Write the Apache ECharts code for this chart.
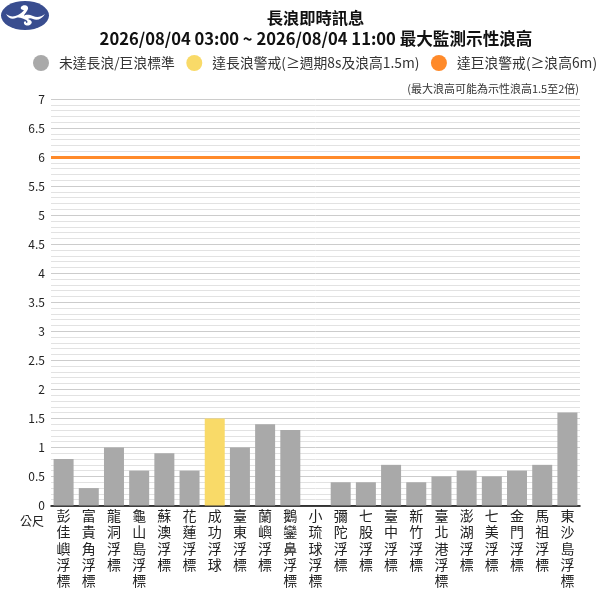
<!DOCTYPE html>
<html><head><meta charset="utf-8">
<style>html,body{margin:0;padding:0;background:#fff}#c{width:600px;height:600px}</style>
<script src="https://cdn.jsdelivr.net/npm/echarts@6/dist/echarts.min.js"></script>
</head><body><div id="c"></div>
<script>
const stations = ['彭佳嶼浮標','富貴角浮標','龍洞浮標','龜山島浮標','蘇澳浮標','花蓮浮標','成功浮球','臺東浮標','蘭嶼浮標','鵝鑾鼻浮標','小琉球浮標','彌陀浮標','七股浮標','臺中浮標','新竹浮標','臺北港浮標','澎湖浮標','七美浮標','金門浮標','馬祖浮標','東沙島浮標'];
const normalWaves = [0.8,0.3,1,0.6,0.9,0.6,null,1,1.4,1.3,null,0.4,0.4,0.7,0.4,0.5,0.6,0.5,0.6,0.7,1.6];
const swellWaves = [null,null,null,null,null,null,1.5,null,null,null,null,null,null,null,null,null,null,null,null,null,null];
const hugeThreshold = 6;
const titleLine1 = '長浪即時訊息';
const titleLine2 = '2026/08/04 03:00 ~ 2026/08/04 11:00 最大監測示性浪高';
const legendNames = ['未達長浪/巨浪標準','達長浪警戒(≥週期8s及浪高1.5m)','達巨浪警戒(≥浪高6m)'];
const note = '(最大浪高可能為示性浪高1.5至2倍)';
const unit = '公尺';
const FONT = '"Noto Sans CJK TC","Noto Sans",sans-serif';
const logoSvg = '<svg xmlns="http://www.w3.org/2000/svg" width="50" height="31" viewBox="0 0 50 31">' +
  '<ellipse cx="25" cy="15.5" rx="24" ry="14.5" fill="#394d8f"/>' +
  '<path fill="#fff" d="M6 14 C10 17 14 17 18 15 C21 13 23 12 24 10 C22 10 20 9 21 7 C23 4 29 5 28 9 C27 12 24 14 24 16 C26 14 30 15 33 16 C37 18 41 17 45 14 C42 19 37 21 33 19 C31 18 29 18 28 19 C31 20 33 22 31 24 C28 27 23 25 24 22 C25 20 27 22 26 23 C28 23 28 21 26 20 C22 18 19 17 16 18 C12 20 8 18 6 14 Z"/></svg>';
const chart = echarts.init(document.getElementById('c'), null, {renderer:'canvas'});
chart.setOption({
  animation:false,
  textStyle:{fontFamily:FONT},
  title:[
    {text:titleLine1,left:310.5,top:5,textAlign:'center',textStyle:{fontFamily:FONT,fontSize:16.3,fontWeight:'bold',color:'#111'}},
    {text:titleLine2,left:311,top:25,textAlign:'center',textStyle:{fontFamily:FONT,fontSize:16.6,fontWeight:'bold',color:'#111'}},
    {text:note,right:16,top:78,textStyle:{fontFamily:FONT,fontSize:11,fontWeight:'normal',color:'#333'}}
  ],
  legend:{
    left:28,top:50,width:590,icon:'circle',itemWidth:16,itemHeight:16,itemGap:11.5,
    data:legendNames,selectedMode:false,
    textStyle:{fontFamily:FONT,fontSize:13.8,color:'#333',padding:[0,0,0,5]}
  },
  grid:{left:51,right:20,top:99,bottom:94.5,containLabel:false},
  xAxis:{
    type:'category',data:stations,
    axisLine:{lineStyle:{color:'#000',width:1.5}},
    axisTick:{show:false},
    axisLabel:{interval:0,margin:2,fontFamily:FONT,fontSize:14,lineHeight:16.3,color:'#222',align:'center',verticalAlign:'top',
      formatter:v=>Array.from(v).join('\n')}
  },
  yAxis:{
    type:'value',min:0,max:7,interval:0.5,
    name:unit,nameLocation:'start',nameGap:10,
    nameTextStyle:{fontFamily:FONT,fontSize:12,color:'#222',align:'right',verticalAlign:'top',padding:[0,7,0,0]},
    axisLine:{show:false},axisTick:{show:false},
    axisLabel:{margin:6,fontFamily:FONT,fontSize:12,color:'#222',showMinLabel:true},
    splitLine:{show:true,lineStyle:{color:'#ccc',width:1}},
    minorTick:{show:false,splitNumber:5},
    minorSplitLine:{show:true,lineStyle:{color:'#e2e2e2',width:1}}
  },
  series:[
    {name:legendNames[0],type:'bar',data:normalWaves,barWidth:20,barGap:'-100%',itemStyle:{color:'#a9a9a9'},z:3},
    {name:legendNames[1],type:'bar',data:swellWaves,barWidth:20,itemStyle:{color:'#f9da68'},z:3},
    {name:legendNames[2],type:'line',data:[],itemStyle:{color:'#ff8a2a'},lineStyle:{color:'#ff8a2a'},showSymbol:false,
      markLine:{silent:true,symbol:'none',label:{show:false},animation:false,
        lineStyle:{color:'#ff8a2a',width:3,type:'solid'},data:[{yAxis:hugeThreshold}]},z:4}
  ],
  graphic:[
    {type:'image',left:0,top:0,silent:true,style:{image:'data:image/svg+xml;charset=utf-8,'+encodeURIComponent(logoSvg),width:50,height:31}}
  ]
});
</script></body></html>
